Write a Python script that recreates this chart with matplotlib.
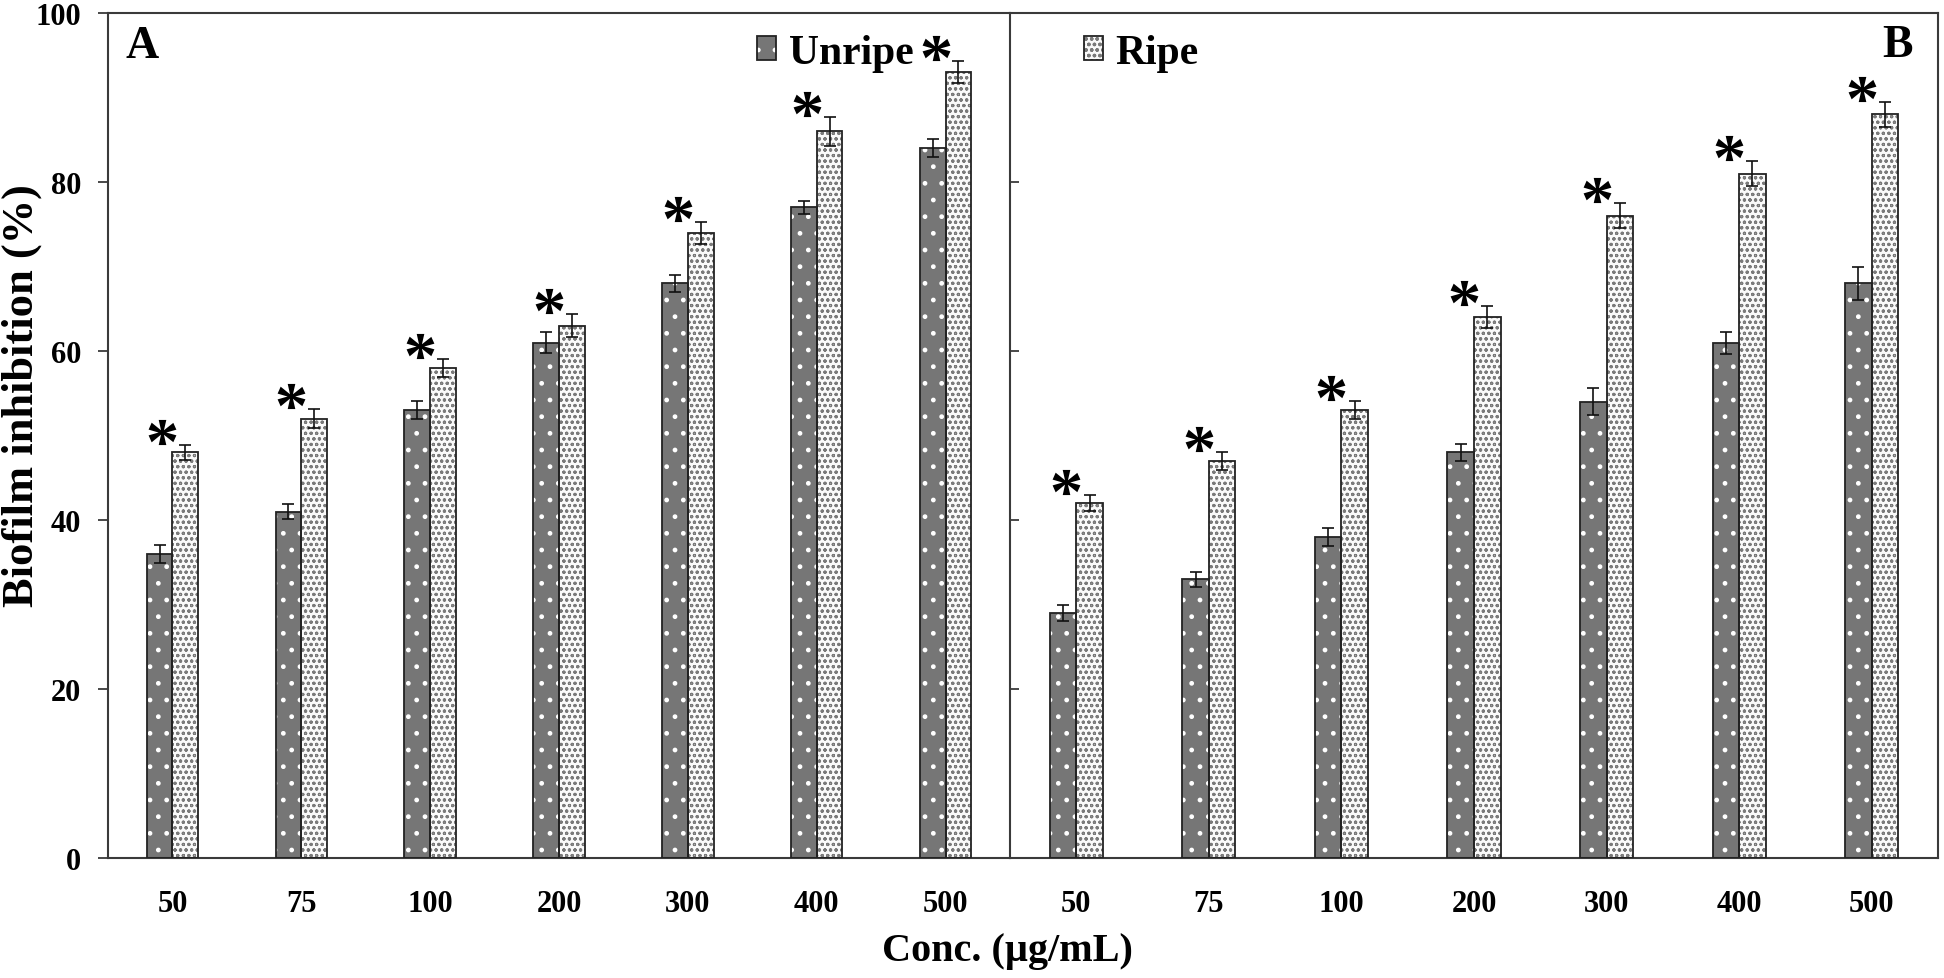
import numpy as np
import matplotlib
matplotlib.use("Agg")
import matplotlib.pyplot as plt
from matplotlib.patches import Patch
from matplotlib.legend_handler import HandlerTuple
from matplotlib.textpath import TextPath
from matplotlib.font_manager import FontProperties
from matplotlib.path import Path
from matplotlib.transforms import ScaledTranslation

# ---------------- data ----------------
conc = ['50', '75', '100', '200', '300', '400', '500']
a_unripe = [36, 41, 53, 61, 68, 77, 84]
a_unripe_err = [1.1, 0.9, 1.1, 1.2, 1.0, 0.8, 1.1]
a_ripe = [48, 52, 58, 63, 74, 86, 93]
a_ripe_err = [0.9, 1.1, 1.1, 1.4, 1.3, 1.7, 1.3]
b_unripe = [29, 33, 38, 48, 54, 61, 68]
b_unripe_err = [0.9, 0.9, 1.1, 1.0, 1.6, 1.3, 2.0]
b_ripe = [42, 47, 53, 64, 76, 81, 88]
b_ripe_err = [0.9, 1.1, 1.1, 1.3, 1.5, 1.5, 1.5]
a_signif = [True, True, True, True, True, True, True]
b_signif = [True, True, True, True, True, True, True]
yticks = [0, 20, 40, 60, 80, 100]

# ---------------- style ----------------
plt.rcParams['font.family'] = ['Liberation Serif', 'DejaVu Serif']
plt.rcParams['font.weight'] = 'bold'
FONT = 'Liberation Serif'
SPINE_C = '#3a3a3a'
UNRIPE_FACE = '#767676'
RIPE_FACE = '#fafafa'
RIPE_DOT = '#7a7a7a'
BAR_W = 0.2

fig = plt.figure(figsize=(19.44, 9.79), dpi=100)
W, H = 1944, 979
bottom_px, top_px = 859, 14
axA = fig.add_axes([108 / W, 1 - bottom_px / H, (1010 - 108) / W, (bottom_px - top_px) / H])
axB = fig.add_axes([1010 / W, 1 - bottom_px / H, (1938 - 1010) / W, (bottom_px - top_px) / H])

# asterisk marker from glyph (closepoly vertices replaced so they don't distort scaling)
fp = FontProperties(family=FONT, weight='bold')
tp = TextPath((0, 0), '*', prop=fp, size=10)
v = tp.vertices.copy()
codes = tp.codes.copy()
start = v[0].copy()
for i, c in enumerate(codes):
    if c == Path.MOVETO:
        start = v[i].copy()
    elif c == Path.CLOSEPOLY:
        v[i] = start
real = codes != Path.CLOSEPOLY
x0, x1 = v[real, 0].min(), v[real, 0].max()
y0, y1 = v[real, 1].min(), v[real, 1].max()
v[:, 0] -= (x0 + x1) / 2
v[:, 1] -= (y0 + y1) / 2
star = Path(v, codes)


def draw_panel(ax, unripe, unripe_err, ripe, ripe_err, signif):
    x = np.arange(len(conc))
    with plt.rc_context({'hatch.linewidth': 1.0}):
        ax.bar(x - BAR_W / 2, unripe, BAR_W, color=UNRIPE_FACE, edgecolor='white',
               hatch='.', linewidth=0, zorder=2)
    with plt.rc_context({'hatch.linewidth': 0.8}):
        ax.bar(x + BAR_W / 2, ripe, BAR_W, color=RIPE_FACE, edgecolor=RIPE_DOT,
               hatch='ooo', linewidth=0, zorder=2)
    ax.bar(x - BAR_W / 2, unripe, BAR_W, fill=False, edgecolor='#222222', linewidth=1.3, zorder=3)
    ax.bar(x + BAR_W / 2, ripe, BAR_W, fill=False, edgecolor='#222222', linewidth=1.3, zorder=3)
    ax.errorbar(x - BAR_W / 2, unripe, yerr=unripe_err, fmt='none', ecolor='#111111',
                elinewidth=1.2, capsize=4.3, capthick=1.2, zorder=4)
    ax.errorbar(x + BAR_W / 2, ripe, yerr=ripe_err, fmt='none', ecolor='#111111',
                elinewidth=1.2, capsize=4.3, capthick=1.2, zorder=4)
    trans = ax.transData + ScaledTranslation(-10 / 100, 13 / 100, fig.dpi_scale_trans)
    for xi, r, e, s in zip(x, ripe, ripe_err, signif):
        if s:
            ax.plot([xi], [r + e], marker=star, markersize=20, color='black',
                    markeredgewidth=0, linestyle='none', transform=trans,
                    clip_on=False, zorder=5)
    ax.set_xlim(-0.5, len(conc) - 0.5)
    ax.set_ylim(0, 100)
    ax.set_xticks(x)
    ax.set_xticklabels(conc, fontsize=22, fontweight='bold', fontfamily=FONT)
    ax.tick_params(axis='x', length=0, pad=22)
    ax.set_yticks(yticks)
    for sp in ax.spines.values():
        sp.set_color(SPINE_C)
        sp.set_linewidth(1.5)


draw_panel(axA, a_unripe, a_unripe_err, a_ripe, a_ripe_err, a_signif)
draw_panel(axB, b_unripe, b_unripe_err, b_ripe, b_ripe_err, b_signif)

axA.spines['right'].set_visible(False)
axA.set_yticklabels([str(t) for t in yticks], fontsize=22, fontweight='bold', fontfamily=FONT)
axA.tick_params(axis='y', direction='out', length=7.5, width=1.3, color=SPINE_C, pad=12)
axB.tick_params(axis='y', direction='in', length=6.5, width=1.3, color=SPINE_C, labelleft=False)

# panel letters
fig.text(142 / W, 1 - 47 / H, 'A', fontsize=33, fontweight='bold', fontfamily=FONT,
         ha='center', va='center')
fig.text(1897 / W, 1 - 46 / H, 'B', fontsize=33, fontweight='bold', fontfamily=FONT,
         ha='center', va='center')

# legends (one entry per panel)
def make_handle(face, hcol, hatch):
    return (Patch(facecolor=face, edgecolor=hcol, hatch=hatch, linewidth=0),
            Patch(fill=False, edgecolor='#222222', linewidth=1.3))

with plt.rc_context({'hatch.linewidth': 0.9}):
    h_unripe = make_handle(UNRIPE_FACE, 'white', '.')
    h_ripe = make_handle(RIPE_FACE, RIPE_DOT, 'ooo')

leg_kw = dict(frameon=False, borderpad=0, borderaxespad=0, handlelength=0.46,
              handleheight=0.52, handletextpad=0.3,
              prop=FontProperties(family=FONT, weight='bold', size=30),
              handler_map={tuple: HandlerTuple(ndivide=1)}, loc='center left',
              bbox_transform=fig.transFigure)
axA.legend([h_unripe], ['Unripe'], bbox_to_anchor=(757 / W, 1 - 54 / H), **leg_kw)
axB.legend([h_ripe], ['Ripe'], bbox_to_anchor=(1084 / W, 1 - 54 / H), **leg_kw)

# axis labels
fig.text(22 / W, 1 - 396 / H, 'Biofilm inhibition (%)', rotation=90, fontsize=32,
         fontweight='bold', fontfamily=FONT, ha='center', va='center')
fig.text(1007 / W, 1 - 952 / H, 'Conc. (µg/mL)', fontsize=29, fontweight='bold',
         fontfamily=FONT, ha='center', va='center')

fig.savefig('out.png', dpi=100)
